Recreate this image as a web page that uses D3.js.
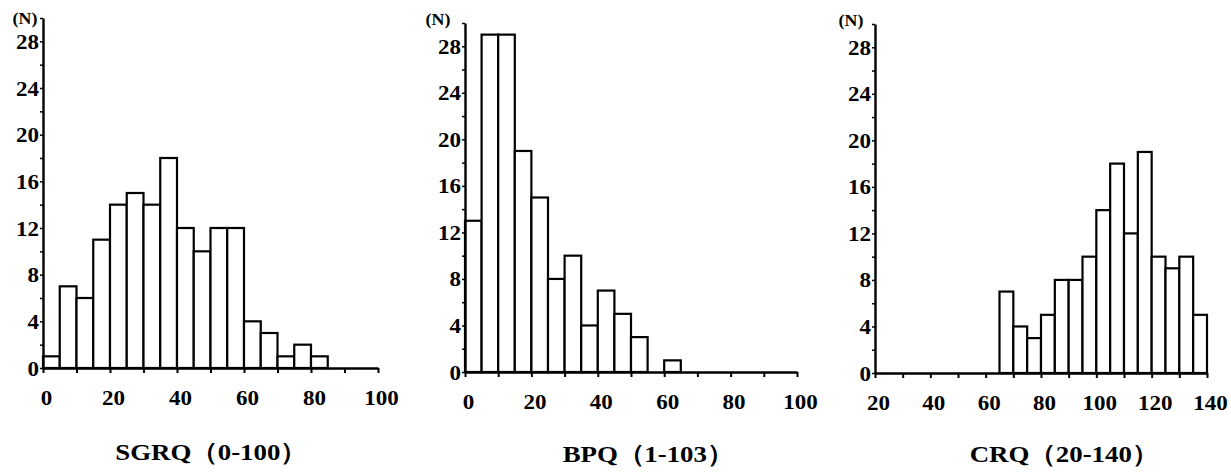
<!DOCTYPE html>
<html><head><meta charset="utf-8">
<script src="https://cdn.jsdelivr.net/npm/d3@7"></script>
<style>
html,body{margin:0;padding:0;background:#fff;}
svg{display:block;}
text{font-family:"Liberation Serif","Times New Roman",serif;font-weight:bold;fill:#000;}
</style></head>
<body>
<script>
// ---- data ----
const binWidth = 5;
const sgrqEdges  = [0,5,10,15,20,25,30,35,40,45,50,55,60,65,70,75,80];
const sgrqCounts = [1,7,6,11,14,15,14,18,12,10,12,12,4,3,1,2,1];
const bpqEdges   = [0,5,10,15,20,25,30,35,40,45,50,55,60];
const bpqCounts  = [13,29,29,19,15,8,10,4,7,5,3,0,1];
const crqEdges   = [65,70,75,80,85,90,95,100,105,110,115,120,125,130,135];
const crqCounts  = [7,4,3,5,8,8,10,14,18,12,19,10,9,10,5];
const yTickLabels = [0,4,8,12,16,20,24,28];
const titles = ["SGRQ（0-100）","BPQ（1-103）","CRQ（20-140）"];
const yUnit = "(N)";

// ---- layout ----
const W = 1231, H = 475;
const svg = d3.select("body").append("svg").attr("width", W).attr("height", H);

const panels = [
  {edges: sgrqEdges, counts: sgrqCounts, dom: [0,100], x0: 43,  x1: 378,  y0: 368, yTop: 18, title: titles[0], tx: 211,  ty: 460, nx: 25,  ny: 24},
  {edges: bpqEdges,  counts: bpqCounts,  dom: [0,100], x0: 465, x1: 797,  y0: 372, yTop: 23, title: titles[1], tx: 648,  ty: 462, nx: 438, ny: 25},
  {edges: crqEdges,  counts: crqCounts,  dom: [20,140],x0: 875, x1: 1207, y0: 373, yTop: 24, title: titles[2], tx: 1064, ty: 462, nx: 851, ny: 26}
];

const fontCss = "'Liberation Serif','Times New Roman',serif";

panels.forEach(p => {
  const x = d3.scaleLinear().domain(p.dom).range([p.x0, p.x1]);
  const y = d3.scaleLinear().domain([0, 30]).range([p.y0, p.yTop]);
  const g = svg.append("g");

  // bars
  const data = p.edges.map((e, i) => ({e, c: p.counts[i]})).filter(d => d.c > 0);
  g.selectAll("rect").data(data).enter().append("rect")
    .attr("x", d => x(d.e))
    .attr("width", d => x(d.e + binWidth) - x(d.e))
    .attr("y", d => y(d.c))
    .attr("height", d => y(0) - y(d.c))
    .attr("fill", "#fff").attr("stroke", "#000").attr("stroke-width", 2.2);

  // x axis
  const xt = d3.range(p.dom[0], p.dom[1] + 1, 10);
  const xa = g.append("g").attr("transform", `translate(0,${p.y0})`)
    .call(d3.axisBottom(x).tickValues(xt).tickSize(5).tickSizeOuter(0)
      .tickFormat(d => d % 20 === 0 ? d : ""));
  xa.select(".domain").attr("stroke-width", 2.4);
  xa.selectAll(".tick line").attr("stroke-width", 2);
  xa.selectAll(".tick text").attr("y", 0).attr("dy", 0)
    .attr("transform", "translate(3,37) scale(1.15,1)")
    .style("font-size", "20px").style("font-family", fontCss).style("font-weight", "bold");

  // y axis
  const ya = g.append("g").attr("transform", `translate(${p.x0},0)`)
    .call(d3.axisLeft(y).tickValues(d3.range(0, 31, 2)).tickSize(3).tickSizeOuter(0)
      .tickFormat(d => yTickLabels.includes(d) ? d : ""));
  ya.select(".domain").attr("stroke-width", 2.4);
  ya.selectAll(".tick line").attr("stroke-width", 1.5);
  ya.selectAll(".tick text").attr("x", 0).attr("dy", "0.35em")
    .attr("transform", "translate(-4,0) scale(1.15,1)")
    .style("font-size", "20px").style("font-family", fontCss).style("font-weight", "bold");

  // unit label
  g.append("text").attr("text-anchor", "middle")
    .attr("transform", `translate(${p.nx},${p.ny}) scale(1.05,1)`)
    .style("font-size", "17px").text(yUnit);

  // title
  g.append("text").attr("text-anchor", "middle")
    .attr("transform", `translate(${p.tx},${p.ty}) scale(1.12,1)`)
    .style("font-size", "24px").text(p.title);
});
</script>
</body></html>
